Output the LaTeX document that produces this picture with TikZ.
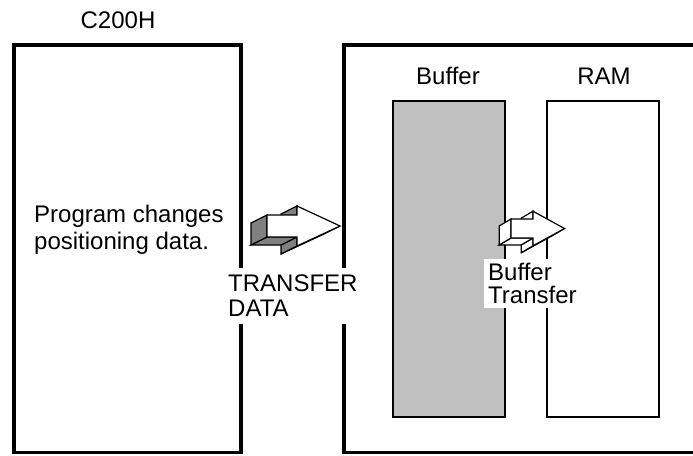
\documentclass[tikz,border=0pt]{standalone}
\usepackage{fontspec}
\setmainfont{Liberation Sans}
\usepackage{xcolor}
\usetikzlibrary{positioning}
\definecolor{bufgray}{RGB}{192,192,192}
\definecolor{sidegray}{RGB}{128,128,128}

% block arrow with its side faces, side faces filled with #1
\newcommand{\fatarrow}[1]{%
\filldraw[fill=#1](30,0)--(30,-9)--(14,-1)--(14,8)--cycle;
\filldraw[fill=#1](73,11)--(30,31)--(14,39)--(57,19)--cycle;
\filldraw[fill=#1](30,31)--(30,22)--(14,30)--(14,39)--cycle;
\filldraw[fill=#1](30,22)--(0,22)--(-16,30)--(14,30)--cycle;
\filldraw[fill=#1](0,22)--(0,0)--(-16,8)--(-16,30)--cycle;
\filldraw[fill=white](0,0)--(30,0)--(30,-9)--(73,11)--(30,31)--(30,22)--(0,22)--cycle;
}

\begin{document}
\begin{tikzpicture}[x=1pt,y=-1pt,
  lbl/.style={inner sep=0pt,font=\fontsize{24}{25}\selectfont},
  unit/.style={line width=4pt},
  mem/.style={draw,line width=2pt}]
\useasboundingbox (0,0) rectangle (693,455);
\clip (0,0) rectangle (693,455);

% C200H and the unit
\draw[unit](14,452.5)--(14,45)--(241,45)--(241,452.5);
\draw[line width=2.7pt](12,452.5)--(243,452.5);
\draw[unit](700,45)--(344,45)--(344,452.5);
\draw[line width=2.7pt](342,452.5)--(700,452.5);

% buffer and RAM
\path[mem,fill=bufgray](393,101)rectangle(505,417);
\path[mem,fill=white](547,101)rectangle(659,417);

\node[lbl,anchor=base](c200h)at(118,28.5){C200H};
\node[lbl,anchor=base](buflbl)at(448,84){Buffer};
\node[lbl,anchor=base](ramlbl)at(604,84){RAM};
\node[lbl,anchor=north west,align=left,font=\fontsize{24}{27}\selectfont](prog)at(34,205.2){Program changes\\positioning data.};

\begin{scope}[shift={(267,215)},line width=1.2pt,line join=miter]
\fatarrow{sidegray}
\end{scope}
\begin{scope}[shift={(511,219)},xscale=0.733,yscale=0.864,line width=1.2pt]
\fatarrow{white}
\end{scope}

\node[lbl,anchor=north west,align=left,fill=white,inner xsep=3pt,inner ysep=7pt](xfer)at(225,267.6){TRANSFER\\DATA};
\node[lbl,anchor=north west,align=left,fill=white,inner xsep=4pt,inner ysep=4pt,font=\fontsize{24}{22.5}\selectfont](bxfer)at(484,259.2){Buffer\\Transfer};
\end{tikzpicture}
\end{document}
